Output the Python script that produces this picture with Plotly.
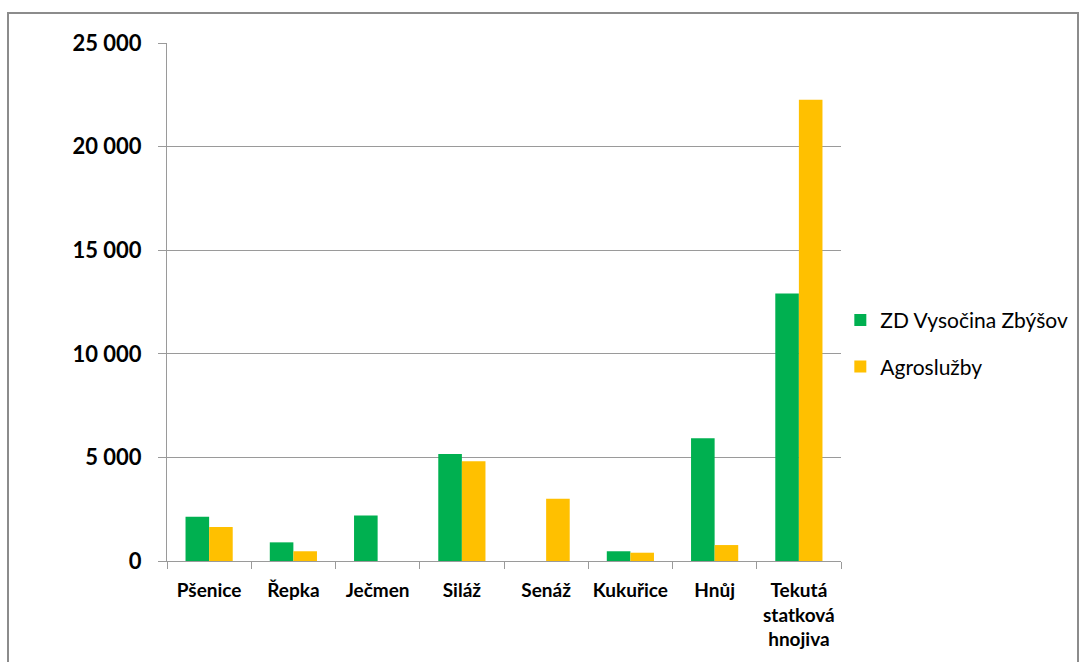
import plotly.graph_objects as go

categories = ["Pšenice", "Řepka", "Ječmen", "Siláž", "Senáž", "Kukuřice", "Hnůj",
              "Tekutá<br>statková<br>hnojiva"]
zd_vysocina = [2140, 900, 2200, 5170, 0, 470, 5920, 12910]
agrosluzby = [1640, 470, 0, 4810, 3000, 400, 770, 22260]

GREEN = "#00B050"
YELLOW = "#FFC000"
GRID = "#9A9A9A"
FONT = "Lato, 'Noto Sans', sans-serif"

fig = go.Figure()
fig.add_trace(go.Bar(name="ZD Vysočina Zbýšov", x=categories, y=zd_vysocina,
                     marker=dict(color=GREEN, line=dict(width=0)), legendgroup="a"))
fig.add_trace(go.Bar(name="Agroslužby", x=categories, y=agrosluzby,
                     marker=dict(color=YELLOW, line=dict(width=0)), legendgroup="b"))

fig.update_layout(
    width=1089, height=662,
    margin=dict(l=167, r=248, t=43, b=101),
    paper_bgcolor="white", plot_bgcolor="white",
    barmode="group", bargap=0.44, bargroupgap=0,
    separators=", ",
    font=dict(family=FONT, color="#000000"),
    legend=dict(x=0.999, y=0.42, xanchor="left", yanchor="middle",
                font=dict(size=21, family=FONT), tracegroupgap=16,
                itemwidth=30, bgcolor="rgba(0,0,0,0)"),
    showlegend=True,
)
fig.update_xaxes(
    showline=True, linecolor=GRID, linewidth=1,
    ticks="outside", tickson="boundaries", ticklen=7, tickcolor=GRID,
    tickfont=dict(size=19, family=FONT, weight="bold"),
    showgrid=False, ticklabelstandoff=12,
)
fig.update_yaxes(
    range=[0, 25000], dtick=5000, tickformat=",d",
    showline=True, linecolor=GRID, linewidth=1,
    ticks="outside", ticklen=8, tickcolor=GRID,
    showgrid=True, gridcolor=GRID, gridwidth=1, zeroline=False,
    tickfont=dict(size=22, family=FONT, weight="bold"),
    ticklabelstandoff=12,
)
# outer chart frame
fig.add_shape(type="rect", xref="paper", yref="paper",
              x0=-159 / 674, x1=911 / 674, y0=-0.3, y1=1 + 30 / 518,
              line=dict(color="#8C8C8C", width=2), layer="below")

fig.write_html("out.html")
